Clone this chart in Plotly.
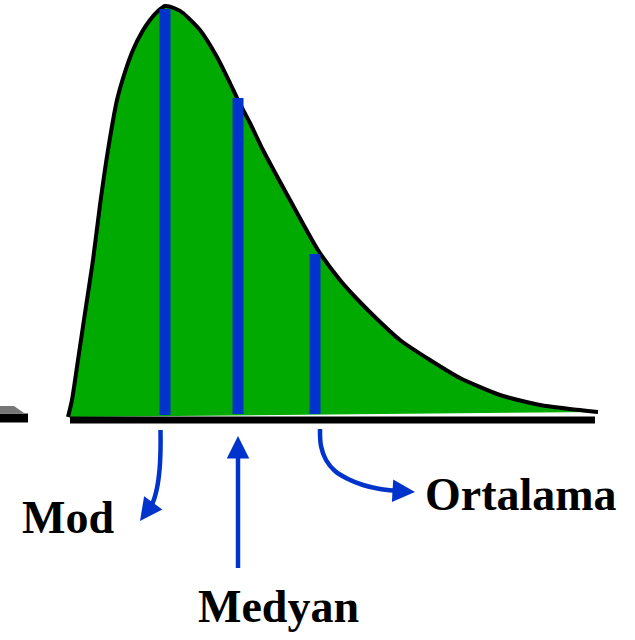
import plotly.graph_objects as go

# Curve outline (pixel-space data)
curve_x = [68, 72, 78, 85, 93, 100, 108, 117, 125, 133, 142, 150, 157, 165, 174, 183, 200, 217,
           230, 238, 250, 263, 290, 318, 340, 358, 378, 400, 430, 460, 500, 540, 570, 598]
curve_y = [417, 400, 360, 313, 260, 205, 150, 100, 72, 50, 32, 20, 12, 6, 8, 13, 30, 57,
           83, 100, 123, 150, 200, 250, 280, 300, 320, 340, 360, 378, 395, 405, 409, 412]

# Measure bars: label, x, top, bottom
bar_names = ["Mod", "Medyan", "Ortalama"]
bar_x = [165, 238, 315]
bar_top = [9, 98, 254]
bar_bottom = [415, 414, 414]

# Baselines
base_x = [70, 595]
base_y = [420, 420]
stub_x = [0, 28]
stub_y = [418, 418]

# Arrows (shaft points; last point is arrow tip)
mod_arrow_x = [160.5, 160.5, 159.5, 157, 153, 148, 140]
mod_arrow_y = [430, 450, 470, 488, 502, 510, 521]
med_arrow_x = [238, 238, 238]
med_arrow_y = [568, 455, 436]
ort_arrow_x = [320, 321, 326, 335, 348, 363, 380, 398, 415]
ort_arrow_y = [429, 446, 460, 471, 479, 485, 489, 491, 492]

labels = ["Mod", "Medyan", "Ortalama"]
label_x = [68, 278, 521]
label_y = [517, 606, 494]

GREEN = "#00AA00"
BLUE = "#0033CC"

fig = go.Figure()

# gray wedge at far left
fig.add_trace(go.Scatter(x=[0, 14, 24, 0], y=[406, 406, 413, 413], fill="toself",
                         fillcolor="#777777", line=dict(width=0), mode="lines", hoverinfo="skip"))
fig.add_trace(go.Scatter(x=stub_x, y=stub_y, mode="lines", line=dict(color="black", width=9)))

# distribution
fig.add_trace(go.Scatter(x=curve_x, y=curve_y, mode="lines", fill="toself", fillcolor=GREEN,
                         line=dict(color="black", width=4, shape="spline", smoothing=0.6)))

# baseline
fig.add_trace(go.Scatter(x=base_x, y=base_y, mode="lines", line=dict(color="black", width=7)))

# measure bars
for bx, bt, bb in zip(bar_x, bar_top, bar_bottom):
    fig.add_trace(go.Scatter(x=[bx, bx], y=[bt, bb], mode="lines",
                             line=dict(color=BLUE, width=11)))

# arrows: shaft as spline, head as annotation arrow
for ax_, ay_ in [(mod_arrow_x, mod_arrow_y), (med_arrow_x, med_arrow_y), (ort_arrow_x, ort_arrow_y)]:
    fig.add_trace(go.Scatter(x=ax_[:-1], y=ay_[:-1], mode="lines",
                             line=dict(color=BLUE, width=4.5, shape="spline")))
    fig.add_annotation(x=ax_[-1], y=ay_[-1], ax=ax_[-2], ay=ay_[-2], axref="x", ayref="y",
                       xref="x", yref="y", text="", showarrow=True, arrowhead=2,
                       arrowsize=1.0, arrowwidth=4.5, arrowcolor=BLUE, standoff=0)

for t, lx, ly in zip(labels, label_x, label_y):
    fig.add_annotation(x=lx, y=ly, text="<b>%s</b>" % t, showarrow=False,
                       font=dict(family="Liberation Serif", size=46, color="black"),
                       xanchor="center", yanchor="middle")

fig.update_layout(width=635, height=640, margin=dict(l=0, r=0, t=0, b=0),
                  plot_bgcolor="white", paper_bgcolor="white", showlegend=False)
fig.update_xaxes(range=[0, 635], visible=False, fixedrange=True)
fig.update_yaxes(range=[640, 0], visible=False, fixedrange=True)

fig.write_html("out.html", config={"displayModeBar": False, "staticPlot": True},
               post_script="document.body.style.margin='0';document.body.style.overflow='hidden';")
